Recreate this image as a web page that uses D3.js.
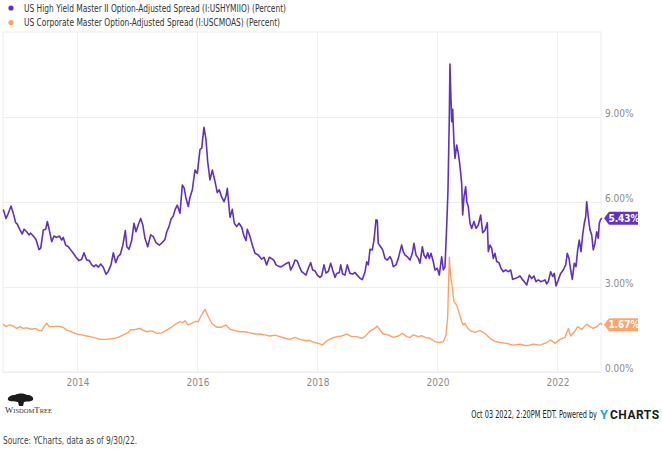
<!DOCTYPE html>
<html>
<head>
<meta charset="utf-8">
<script src="https://cdn.jsdelivr.net/npm/d3@7"></script>
<style>
  body { margin: 0; background: #fff; }
  svg text { font-family: "Liberation Sans Narrow", "DejaVu Sans Condensed", Roboto, sans-serif; }
</style>
</head>
<body>
<div id="chart"></div>
<script>
// Series names (legend)
const seriesNames = [
    "US High Yield Master II Option-Adjusted Spread (I:USHYMIIO) (Percent)",
    "US Corporate Master Option-Adjusted Spread (I:USCMOAS) (Percent)"
];
const seriesColors = ["#5f2fc8", "#ffa166"];

// Axis ticks
const yTicks = [0, 3, 6, 9];
const xTicks = [2014, 2016, 2018, 2020, 2022];

// Latest values shown in the end tags
const lastValues = [5.43, 1.67];

// High yield OAS, dates as decimal years
const hyYears = [
    2012.763, 2012.808, 2012.847, 2012.892, 2012.930, 2012.970, 2012.997, 2013.042, 2013.080, 2013.108,
    2013.153, 2013.192, 2013.220, 2013.263, 2013.308, 2013.358, 2013.387, 2013.430, 2013.470, 2013.497,
    2013.530, 2013.570, 2013.608, 2013.653, 2013.697, 2013.737, 2013.763, 2013.803, 2013.847, 2013.887,
    2013.930, 2013.975, 2014.025, 2014.070, 2014.108, 2014.153, 2014.197, 2014.237, 2014.275, 2014.308,
    2014.347, 2014.387, 2014.430, 2014.475, 2014.513, 2014.558, 2014.597, 2014.637, 2014.680, 2014.713,
    2014.753, 2014.797, 2014.822, 2014.858, 2014.903, 2014.942, 2014.975, 2015.013, 2015.053, 2015.087,
    2015.125, 2015.170, 2015.220, 2015.263, 2015.308, 2015.363, 2015.413, 2015.458, 2015.487, 2015.525,
    2015.558, 2015.597, 2015.625, 2015.663, 2015.708, 2015.747, 2015.780, 2015.808, 2015.847, 2015.875,
    2015.913, 2015.958, 2015.997, 2016.042, 2016.070, 2016.108, 2016.142, 2016.170, 2016.208, 2016.247,
    2016.292, 2016.330, 2016.363, 2016.403, 2016.442, 2016.475, 2016.497, 2016.542, 2016.580, 2016.613,
    2016.653, 2016.692, 2016.737, 2016.775, 2016.808, 2016.830, 2016.875, 2016.913, 2016.958, 2017.013,
    2017.070, 2017.108, 2017.153, 2017.197, 2017.237, 2017.275, 2017.308, 2017.363, 2017.403, 2017.442,
    2017.487, 2017.525, 2017.553, 2017.597, 2017.625, 2017.663, 2017.697, 2017.737, 2017.775, 2017.808,
    2017.847, 2017.887, 2017.920, 2017.958, 2017.997, 2018.042, 2018.070, 2018.108, 2018.142, 2018.180,
    2018.220, 2018.253, 2018.292, 2018.320, 2018.363, 2018.387, 2018.420, 2018.458, 2018.497, 2018.542,
    2018.587, 2018.625, 2018.663, 2018.708, 2018.747, 2018.792, 2018.820, 2018.847, 2018.875, 2018.913,
    2018.942, 2018.975, 2018.997, 2019.013, 2019.053, 2019.087, 2019.125, 2019.163, 2019.208, 2019.237,
    2019.263, 2019.308, 2019.347, 2019.375, 2019.403, 2019.430, 2019.458, 2019.497, 2019.542, 2019.580,
    2019.608, 2019.642, 2019.680, 2019.708, 2019.747, 2019.775, 2019.808, 2019.837, 2019.863, 2019.892,
    2019.930, 2019.958, 2019.997, 2020.030, 2020.070, 2020.097, 2020.125, 2020.153, 2020.175, 2020.197,
    2020.208, 2020.220, 2020.237, 2020.253, 2020.275, 2020.292, 2020.320, 2020.347, 2020.363, 2020.387,
    2020.403, 2020.420, 2020.442, 2020.470, 2020.487, 2020.513, 2020.542, 2020.570, 2020.608, 2020.642,
    2020.680, 2020.720, 2020.753, 2020.792, 2020.830, 2020.847, 2020.875, 2020.903, 2020.930, 2020.958,
    2020.987, 2021.025, 2021.058, 2021.097, 2021.137, 2021.180, 2021.220, 2021.253, 2021.292, 2021.337,
    2021.375, 2021.413, 2021.447, 2021.487, 2021.530, 2021.570, 2021.608, 2021.642, 2021.680, 2021.720,
    2021.753, 2021.792, 2021.820, 2021.847, 2021.887, 2021.920, 2021.947, 2021.975, 2022.013, 2022.053,
    2022.097, 2022.137, 2022.163, 2022.192, 2022.220, 2022.247, 2022.280, 2022.308, 2022.337, 2022.363,
    2022.392, 2022.420, 2022.447, 2022.470, 2022.487, 2022.513, 2022.542, 2022.570, 2022.597, 2022.625,
    2022.653, 2022.680, 2022.697, 2022.720, 2022.742
];
const hyValues = [
    5.74, 5.42, 5.60, 5.86, 5.60, 5.27, 5.22, 5.01, 4.87, 5.04,
    4.95, 4.84, 4.90, 4.80, 4.68, 4.32, 4.37, 5.01, 5.04, 5.31,
    5.01, 4.60, 4.80, 4.75, 4.80, 4.66, 4.75, 4.48, 4.42, 4.31,
    4.19, 4.05, 3.93, 3.98, 4.21, 3.95, 3.93, 3.78, 3.72, 3.78,
    3.70, 3.81, 3.70, 3.45, 3.55, 3.78, 4.21, 3.86, 4.09, 4.15,
    4.45, 4.99, 4.42, 4.33, 4.64, 5.25, 4.95, 5.20, 5.42, 5.20,
    4.72, 4.42, 4.84, 4.78, 4.57, 4.48, 4.57, 4.68, 4.95, 5.13,
    5.39, 5.51, 5.72, 5.89, 5.60, 6.60, 6.48, 6.13, 5.84, 6.17,
    6.42, 7.13, 7.01, 7.86, 7.90, 8.64, 8.19, 7.42, 6.78, 7.13,
    6.72, 6.33, 6.43, 6.17, 6.01, 6.21, 6.48, 5.46, 5.74, 5.25,
    5.13, 5.25, 5.11, 4.80, 4.64, 5.04, 4.78, 4.48, 4.19, 4.13,
    3.98, 4.05, 3.78, 4.05, 4.00, 3.94, 3.78, 3.72, 3.72, 3.78,
    3.84, 3.87, 3.60, 3.78, 3.95, 3.92, 3.72, 3.54, 3.48, 3.42,
    3.66, 3.86, 3.60, 3.57, 3.42, 3.34, 3.39, 3.78, 3.49, 3.55,
    3.84, 3.60, 3.34, 3.48, 3.51, 3.78, 3.46, 3.42, 3.78, 3.48,
    3.46, 3.51, 3.42, 3.31, 3.26, 3.54, 3.89, 3.78, 4.33, 4.31,
    4.66, 5.37, 5.35, 4.54, 4.42, 4.31, 4.01, 3.95, 4.07, 3.95,
    3.72, 3.78, 4.01, 4.25, 4.48, 4.25, 4.13, 4.07, 3.95, 4.19,
    4.54, 4.13, 4.01, 3.84, 4.42, 4.13, 4.01, 4.21, 4.01, 4.19,
    3.89, 3.60, 3.66, 3.42, 4.07, 3.60, 3.72, 5.13, 6.42, 9.01,
    10.87, 9.95, 8.83, 9.27, 8.07, 7.54, 8.01, 7.72, 7.48, 7.01,
    6.66, 5.54, 6.19, 6.54, 6.01, 5.84, 5.25, 5.07, 5.31, 5.07,
    5.19, 5.54, 4.92, 5.00, 5.27, 4.25, 4.48, 4.37, 4.01, 4.19,
    3.90, 3.86, 3.66, 3.54, 3.60, 3.54, 3.60, 3.27, 3.30, 3.34,
    3.39, 3.27, 3.19, 3.07, 3.42, 3.30, 3.39, 3.19, 3.25, 3.19,
    3.21, 3.25, 3.11, 3.19, 3.54, 3.37, 3.48, 3.04, 3.25, 3.48,
    3.60, 3.78, 4.19, 4.01, 3.60, 3.27, 3.84, 3.72, 4.31, 4.66,
    4.25, 4.84, 5.25, 5.48, 6.01, 5.48, 5.01, 4.84, 4.31, 4.54,
    4.95, 4.72, 5.25, 5.39, 5.43
];

// Investment grade corporate OAS, dates as decimal years
const igYears = [
    2012.763, 2012.808, 2012.875, 2012.930, 2012.987, 2013.042, 2013.097, 2013.153, 2013.237, 2013.292,
    2013.347, 2013.403, 2013.442, 2013.487, 2013.530, 2013.597, 2013.680, 2013.763, 2013.820, 2013.903,
    2013.987, 2014.070, 2014.153, 2014.263, 2014.375, 2014.487, 2014.597, 2014.680, 2014.763, 2014.847,
    2014.875, 2014.958, 2015.042, 2015.087, 2015.153, 2015.237, 2015.320, 2015.403, 2015.487, 2015.570,
    2015.653, 2015.708, 2015.753, 2015.792, 2015.847, 2015.903, 2015.958, 2016.013, 2016.053, 2016.092,
    2016.125, 2016.180, 2016.237, 2016.320, 2016.403, 2016.475, 2016.542, 2016.625, 2016.708, 2016.792,
    2016.875, 2016.958, 2017.042, 2017.125, 2017.208, 2017.292, 2017.375, 2017.458, 2017.542, 2017.625,
    2017.708, 2017.792, 2017.875, 2017.958, 2018.042, 2018.087, 2018.153, 2018.237, 2018.320, 2018.403,
    2018.487, 2018.570, 2018.653, 2018.737, 2018.792, 2018.875, 2018.942, 2018.997, 2019.042, 2019.097,
    2019.180, 2019.263, 2019.347, 2019.420, 2019.487, 2019.542, 2019.597, 2019.680, 2019.737, 2019.792,
    2019.875, 2019.958, 2020.030, 2020.097, 2020.142, 2020.170, 2020.197, 2020.220, 2020.242, 2020.275,
    2020.320, 2020.363, 2020.403, 2020.430, 2020.458, 2020.497, 2020.542, 2020.625, 2020.708, 2020.792,
    2020.875, 2020.958, 2021.042, 2021.153, 2021.263, 2021.375, 2021.487, 2021.597, 2021.708, 2021.820,
    2021.887, 2021.958, 2022.042, 2022.125, 2022.180, 2022.220, 2022.280, 2022.337, 2022.403, 2022.487,
    2022.542, 2022.597, 2022.653, 2022.720, 2022.742
];
const igValues = [
    1.69, 1.60, 1.66, 1.62, 1.54, 1.60, 1.54, 1.56, 1.51, 1.54,
    1.48, 1.45, 1.60, 1.72, 1.60, 1.60, 1.62, 1.57, 1.48, 1.42,
    1.34, 1.31, 1.27, 1.22, 1.15, 1.15, 1.18, 1.22, 1.31, 1.40,
    1.48, 1.50, 1.54, 1.48, 1.42, 1.45, 1.36, 1.38, 1.48, 1.58,
    1.72, 1.78, 1.74, 1.81, 1.66, 1.72, 1.78, 1.78, 1.95, 2.10,
    2.21, 1.95, 1.72, 1.58, 1.58, 1.66, 1.51, 1.46, 1.42, 1.42,
    1.38, 1.34, 1.34, 1.31, 1.27, 1.30, 1.25, 1.19, 1.15, 1.22,
    1.15, 1.11, 1.11, 1.04, 0.99, 0.95, 1.10, 1.19, 1.25, 1.27,
    1.34, 1.25, 1.25, 1.19, 1.25, 1.44, 1.52, 1.62, 1.48, 1.34,
    1.31, 1.22, 1.27, 1.36, 1.25, 1.22, 1.31, 1.25, 1.28, 1.22,
    1.19, 1.07, 1.04, 1.07, 1.31, 1.95, 4.05, 3.36, 3.07, 2.48,
    2.36, 2.07, 1.78, 1.66, 1.72, 1.57, 1.46, 1.40, 1.46, 1.36,
    1.19, 1.08, 1.04, 1.01, 0.95, 0.98, 0.92, 0.98, 0.95, 1.04,
    1.13, 1.01, 1.15, 1.22, 1.54, 1.27, 1.42, 1.60, 1.50, 1.69,
    1.60, 1.54, 1.60, 1.72, 1.67
];

const W = 662, H = 455;
const plot = { left: 3, right: 602, top: 32, bottom: 372 };

const svg = d3.select("#chart")
    .append("svg")
    .attr("width", W)
    .attr("height", H);

// Scales
const x = d3.scaleLinear()
    .domain([2012.7583, 2022.742])
    .range([plot.left, plot.right]);

const y = d3.scaleLinear()
    .domain([0, 12])
    .range([plot.bottom, plot.top]);

// Legend
seriesNames.forEach((name, i) => {
    const ly = 8 + i * 14.5;
    svg.append("circle")
        .attr("cx", 11)
        .attr("cy", ly)
        .attr("r", 2.6)
        .attr("fill", seriesColors[i]);
    svg.append("text")
        .attr("x", 24)
        .attr("y", ly + 3.6)
        .attr("font-size", 10.5)
        .attr("fill", "#333")
        .attr("textLength", i === 0 ? 262 : 256)
        .attr("lengthAdjust", "spacingAndGlyphs")
        .text(name);
});

// Frame
svg.append("rect")
    .attr("x", plot.left)
    .attr("y", plot.top)
    .attr("width", plot.right - plot.left - 1)
    .attr("height", plot.bottom - plot.top)
    .attr("fill", "none")
    .attr("stroke", "#ececec");

// Horizontal grid
svg.append("g")
    .selectAll("line")
    .data(yTicks)
    .enter()
    .append("line")
    .attr("x1", plot.left)
    .attr("x2", plot.right - 1)
    .attr("y1", d => Math.round(y(d)) + 0.5)
    .attr("y2", d => Math.round(y(d)) + 0.5)
    .attr("stroke", "#ececec");

// Vertical grid
svg.append("g")
    .selectAll("line")
    .data(xTicks)
    .enter()
    .append("line")
    .attr("x1", d => Math.round(x(d)) + 0.5)
    .attr("x2", d => Math.round(x(d)) + 0.5)
    .attr("y1", plot.top)
    .attr("y2", plot.bottom)
    .attr("stroke", "#f1f1f1");

// Y axis on the right
const yAxis = svg.append("g")
    .attr("transform", `translate(${plot.right + 3},0)`)
    .call(d3.axisRight(y)
        .tickValues(yTicks)
        .tickSize(0)
        .tickPadding(0)
        .tickFormat(d => d3.format(".2f")(d) + "%"));
yAxis.select(".domain").remove();
yAxis.selectAll("text")
    .attr("dy", "-0.05em")
    .attr("font-size", 10)
    .attr("fill", "#8a8a8a")
    .style("font-family", null);

// X axis
const xAxis = svg.append("g")
    .attr("transform", `translate(0,${plot.bottom})`)
    .call(d3.axisBottom(x)
        .tickValues(xTicks)
        .tickSize(0)
        .tickPadding(7)
        .tickFormat(d3.format("d")));
xAxis.select(".domain").remove();
xAxis.selectAll("text")
    .attr("font-size", 10)
    .attr("fill", "#8a8a8a")
    .style("font-family", null);

// Lines
const line = d3.line()
    .x(d => x(d[0]))
    .y(d => y(d[1]));

const hyData = hyYears.map((t, i) => [t, hyValues[i]]);
const igData = igYears.map((t, i) => [t, igValues[i]]);

svg.append("path")
    .datum(igData)
    .attr("d", line)
    .attr("fill", "none")
    .attr("stroke", seriesColors[1])
    .attr("stroke-width", 1.4)
    .attr("stroke-linejoin", "round");

svg.append("path")
    .datum(hyData)
    .attr("d", line)
    .attr("fill", "none")
    .attr("stroke", seriesColors[0])
    .attr("stroke-width", 1.6)
    .attr("stroke-linejoin", "round");

// End value tags
lastValues.forEach((v, i) => {
    const ty = y(v);
    const x0 = plot.right + 2;
    svg.append("path")
        .attr("d", `M${x0},${ty} L${x0 + 5},${ty - 6.5} L${x0 + 34},${ty - 6.5} L${x0 + 34},${ty + 6.5} L${x0 + 5},${ty + 6.5} Z`)
        .attr("fill", i === 0 ? "#6232c9" : "#ffa56b");
    svg.append("text")
        .attr("x", x0 + 20)
        .attr("y", ty + 3.6)
        .attr("text-anchor", "middle")
        .attr("font-size", 10)
        .attr("font-weight", "bold")
        .attr("fill", "#fff")
        .text(d3.format(".2f")(v) + "%");
});

// WisdomTree logo
const logo = svg.append("g").attr("transform", "translate(5,393)");
logo.append("path")
    .attr("d", "M3,7 C2,4 6,2 10,2 C13,0 19,0 22,2 C26,2 29,4 28,7 C26,9 22,8 19,9 L18,13 L14,13 L13,9 C9,8 5,9 3,7 Z")
    .attr("fill", "#1c1c1c");
logo.append("text")
    .attr("x", 0)
    .attr("y", 20)
    .attr("font-size", 8)
    .attr("fill", "#333")
    .attr("textLength", 47)
    .attr("lengthAdjust", "spacingAndGlyphs")
    .style("font-family", "'Liberation Serif', 'DejaVu Serif', serif")
    .style("font-variant", "small-caps")
    .text("WisdomTree");

// Timestamp (squeezed horizontally, right edge fixed) and YCharts mark
svg.append("text")
    .attr("transform", "translate(597,418) scale(0.73,1)")
    .attr("text-anchor", "end")
    .attr("font-size", 10)
    .attr("fill", "#222")
    .text("Oct 03 2022, 2:20PM EDT. Powered by");
svg.append("text")
    .attr("x", 600)
    .attr("y", 419)
    .attr("font-size", 13)
    .attr("font-weight", "bold")
    .attr("fill", "#1ea7e4")
    .style("font-family", "Roboto, 'DejaVu Sans', sans-serif")
    .text("Y");
svg.append("text")
    .attr("x", 610)
    .attr("y", 419)
    .attr("font-size", 12)
    .attr("font-weight", "bold")
    .attr("fill", "#1a1a1a")
    .attr("letter-spacing", 0.5)
    .style("font-family", "Roboto, 'DejaVu Sans', sans-serif")
    .text("CHARTS");

// Source note
svg.append("text")
    .attr("x", 3)
    .attr("y", 444)
    .attr("font-size", 10.5)
    .attr("fill", "#444")
    .attr("textLength", 134)
    .attr("lengthAdjust", "spacingAndGlyphs")
    .text("Source: YCharts, data as of 9/30/22.");
</script>
</body>
</html>
